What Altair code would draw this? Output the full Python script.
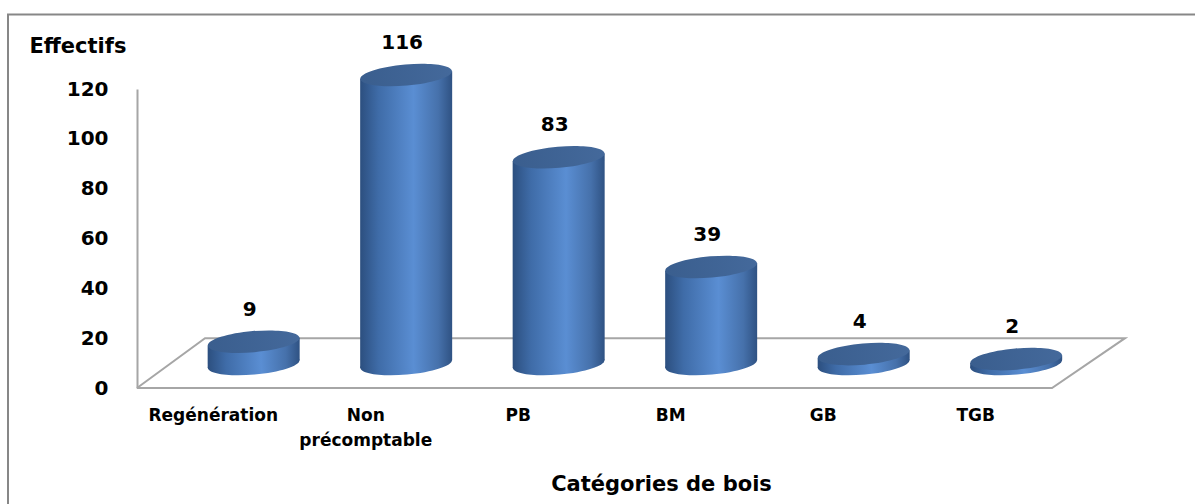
import altair as alt
import pandas as pd

# ---- data -------------------------------------------------------------
categories = ["Regénération", "Non précomptable", "PB", "BM", "GB", "TGB"]
label_line1 = ["Regénération", "Non", "PB", "BM", "GB", "TGB"]
label_line2 = ["", "précomptable", "", "", "", ""]
counts = [9, 116, 83, 39, 4, 2]
y_ticks = [0, 20, 40, 60, 80, 100, 120]

# ---- 3-D look (x unit = one category slot, y unit = one count) --------
PLOT_W, PLOT_H = 988, 299
SLOT_PX = 152.5
X_MAX = PLOT_W / SLOT_PX
Y_PX = PLOT_H / 120.0
DEPTH_X = 0.265          # cylinders stand at mid-depth of the floor
BASE_Y = 9.6             # mid-depth floor level, in count units
HALF_W = 46 / SLOT_PX    # cylinder radius
TILT_DEG = 5
TILT_Y = 3.8 / Y_PX      # vertical shift of a tilted rim at its sides
BACK_Y = 20.0            # back edge of the floor
FONT = "DejaVu Sans"

k, r = 0.5523, 0.23
ELLIPSE = (f"M1,0 C1,{k*r:.4f} {k},{r} 0,{r} C{-k},{r} -1,{k*r:.4f} -1,0 "
           f"C-1,{-k*r:.4f} {-k},{-r} 0,{-r} C{k},{-r} 1,{-k*r:.4f} 1,0 Z")
ELLIPSE_SIZE = (2 * 46) ** 2

BODY = {"gradient": "linear", "x1": 0, "x2": 1, "y1": 0, "y2": 0,
        "stops": [{"offset": 0.0, "color": "#2c4f7f"},
                  {"offset": 0.2, "color": "#3f6ca8"},
                  {"offset": 0.58, "color": "#5a8ed3"},
                  {"offset": 0.85, "color": "#4671ab"},
                  {"offset": 1.0, "color": "#2f5283"}]}
TOP = {"gradient": "linear", "x1": 0, "x2": 1, "y1": 0, "y2": 0,
       "stops": [{"offset": 0.0, "color": "#3a5e8e"},
                 {"offset": 1.0, "color": "#44699b"}]}

bars = pd.DataFrame({"cat": categories, "idx": list(range(len(categories))),
                     "value": counts})
labels = pd.DataFrame({"idx": list(range(len(categories))),
                       "l1": label_line1, "l2": label_line2})
floor = pd.DataFrame({"fx": [0, 6, 6.479, 0.446, 0],
                      "fy": [0, 0, BACK_Y, BACK_Y, 0],
                      "k": [0, 1, 2, 3, 4]})
frame = pd.DataFrame({"k": [0]})

XS = alt.Scale(domain=[0, X_MAX], nice=False, zero=False)
YS = alt.Scale(domain=[0, 120], nice=False, zero=False)
XAXIS = alt.Axis(title="Catégories de bois", labels=False, ticks=False,
                 domain=False, grid=False, titleX=524, titleY=96,
                 titleAlign="center", titleBaseline="middle",
                 titleFont=FONT, titleFontSize=21, titleFontWeight="bold",
                 titleColor="#000000")
YAXIS = alt.Axis(title="Effectifs", values=y_ticks, ticks=False, grid=False,
                 domain=True, domainColor="#a6a6a6", domainWidth=2,
                 labelFont=FONT, labelFontSize=20, labelFontWeight="bold",
                 labelColor="#000000", labelPadding=29,
                 titleAngle=0, titleAlign="left", titleBaseline="middle",
                 titleX=-108, titleY=-43, titleFont=FONT, titleFontSize=21,
                 titleFontWeight="bold", titleColor="#000000")


def X(field):
    return alt.X(field, type="quantitative", scale=XS, axis=XAXIS)


def Y(field):
    return alt.Y(field, type="quantitative", scale=YS, axis=YAXIS)


# outer frame around the whole figure
border = alt.Chart(frame).mark_rect(fillOpacity=0, stroke="#878787",
                                    strokeWidth=2).encode(
    x=alt.value(-129), x2=alt.value(1075),
    y=alt.value(-74.5), y2=alt.value(430))

# floor parallelogram
floor_line = alt.Chart(floor).mark_line(color="#a6a6a6", strokeWidth=2).encode(
    x=X("fx"), y=Y("fy"), order="k:Q")

cyl = alt.Chart(bars).transform_calculate(
    cx=f"datum.idx + 0.5 + {DEPTH_X}",
    base=f"{BASE_Y}",
    top=f"datum.value + {BASE_Y}")

bottom_rim = cyl.mark_point(shape=ELLIPSE, size=ELLIPSE_SIZE, filled=True,
                            fill=BODY, fillOpacity=1, opacity=1,
                            strokeWidth=0, angle=360 - TILT_DEG).encode(
    x=X("cx"), y=Y("base"))

body = cyl.transform_calculate(left="-1", right="1").transform_fold(
    ["left", "right"], as_=["side", "s"]
).transform_calculate(
    bx=f"datum.cx + datum.s * {HALF_W}",
    btop=f"datum.top + datum.s * {TILT_Y}",
    bbase=f"datum.base + datum.s * {TILT_Y}",
).mark_area(color=BODY, opacity=1).encode(
    x=X("bx"), y=Y("btop"), y2="bbase:Q", detail="cat:N")

top_rim = cyl.mark_point(shape=ELLIPSE, size=ELLIPSE_SIZE, filled=True,
                         fill=TOP, fillOpacity=1, opacity=1,
                         strokeWidth=0, angle=360 - TILT_DEG).encode(
    x=X("cx"), y=Y("top"))

values_txt = cyl.mark_text(font=FONT, fontSize=20, fontWeight="bold",
                           color="#000000", dy=-32, dx=-4,
                           baseline="middle").encode(
    x=X("cx"), y=Y("top"), text="value:Q")

lab = alt.Chart(labels).transform_calculate(lx="datum.idx + 0.5", ly="0")
cat1 = lab.mark_text(font=FONT, fontSize=17, fontWeight="bold",
                     color="#000000", dy=28, baseline="middle").encode(
    x=X("lx"), y=Y("ly"), text="l1:N")
cat2 = lab.transform_filter("datum.l2 != ''").mark_text(
    font=FONT, fontSize=17, fontWeight="bold", color="#000000", dy=53,
    baseline="middle").encode(x=X("lx"), y=Y("ly"), text="l2:N")

chart = alt.layer(border, floor_line, bottom_rim, body, top_rim, values_txt,
                  cat1, cat2).properties(
    width=PLOT_W, height=PLOT_H,
    autosize=alt.AutoSizeParams(type="none"),
    padding={"left": 137, "top": 89, "right": 70, "bottom": 116},
    background="#ffffff",
).configure_view(strokeWidth=0)

chart.save("out.html", embed_options={"renderer": "svg", "actions": False})
